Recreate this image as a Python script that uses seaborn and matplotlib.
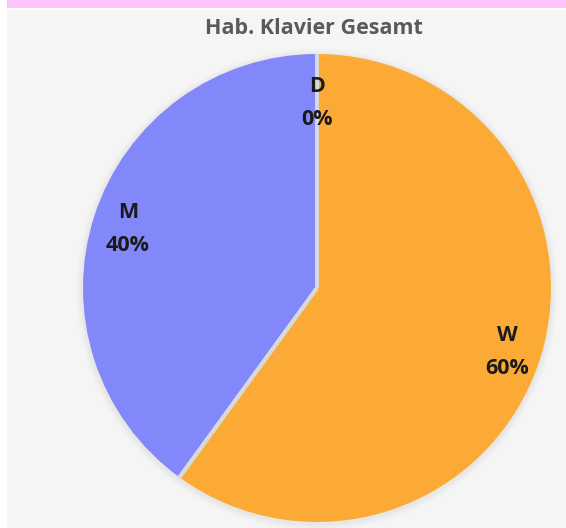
import matplotlib
matplotlib.use("Agg")
import matplotlib.pyplot as plt
import seaborn as sns
import numpy as np
from matplotlib.patches import Rectangle, Circle

categories = ["W", "M", "D"]
values = [60, 40, 0]
pct_labels = ["60%", "40%", "0%"]
colors = ["#FBAB35", "#8288F9", "#A5A5A5"]
title = "Hab. Klavier Gesamt"

sns.set_theme(style="white")
plt.rcParams['font.family'] = ['Open Sans', 'DejaVu Sans']

W, H = 566, 528
fig = plt.figure(figsize=(W / 100, H / 100), dpi=100)
fig.patch.set_facecolor("white")

# background panels
fig.add_artist(Rectangle((7 / W, 0), 1 - 7 / W, 518 / H, transform=fig.transFigure,
                         facecolor="#F5F5F5", edgecolor="none", zorder=0))
fig.add_artist(Rectangle((7 / W, 520 / H), 1 - 7 / W, 8 / H, transform=fig.transFigure,
                         facecolor="#FDC3FB", edgecolor="none", zorder=0))

cx, cy, r = 317, 528 - 288, 234
ax = fig.add_axes([(cx - r) / W, (cy - r) / H, 2 * r / W, 2 * r / H])
ax.set_facecolor("none")

# subtle soft shadow
for k, a in [(1.03, 0.012), (1.02, 0.018), (1.01, 0.025)]:
    ax.add_patch(Circle((0, -0.006), k, facecolor="black", alpha=a, edgecolor="none", zorder=0))

wedges, _ = ax.pie(values, colors=colors, startangle=90, counterclock=False,
                   wedgeprops=dict(edgecolor="none", linewidth=0), radius=1.0)
for w in wedges:
    w.set_zorder(2)

# separators between slices (only radial edges)
for w in wedges:
    for th in (w.theta1, w.theta2):
        t = np.deg2rad(th)
        ax.plot([0, np.cos(t)], [0, np.sin(t)], color="#D9D9D9", lw=2.8,
                solid_capstyle="butt", zorder=3)

dists = [0.855, 0.85, 0.80]
for w, cat, pct, d in zip(wedges, categories, pct_labels, dists):
    ang = np.deg2rad((w.theta1 + w.theta2) / 2)
    x, y = d * np.cos(ang), d * np.sin(ang) - 0.01
    ax.text(x, y + 0.07, cat, ha="center", va="center", fontsize=15.5,
            fontweight="bold", color="#1A1A1A", zorder=5)
    ax.text(x, y - 0.07, pct, ha="center", va="center", fontsize=15.5,
            fontweight="bold", color="#1A1A1A", zorder=5)

ax.set_xlim(-1, 1)
ax.set_ylim(-1, 1)
ax.set_aspect("equal")
ax.axis("off")
for c in ax.get_children():
    try:
        c.set_clip_on(False)
    except Exception:
        pass

fig.text(314 / W, 1 - 28 / H, title, ha="center", va="center", fontsize=15.5,
         fontweight="bold", color="#5A5A5A")

fig.savefig("out.png", dpi=100)
